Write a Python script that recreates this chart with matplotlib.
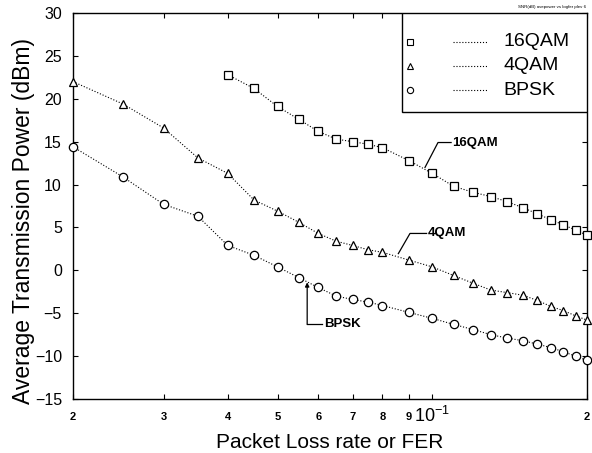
import matplotlib
matplotlib.use("Agg")
import matplotlib.pyplot as plt
from matplotlib.patches import Rectangle
from matplotlib.ticker import FixedLocator, FixedFormatter

plt.rcParams['font.family'] = ['Liberation Sans', 'DejaVu Sans']

# packet loss rate / FER
fer_16qam = [0.04, 0.045, 0.05, 0.055, 0.06, 0.065, 0.07, 0.075, 0.08, 0.09,
             0.10, 0.11, 0.12, 0.13, 0.14, 0.15, 0.16, 0.17, 0.18, 0.19, 0.20]
fer_low = [0.02, 0.025, 0.03, 0.035] + fer_16qam

# average transmission power (dBm)
pwr_16qam = [22.8, 21.2, 19.1, 17.6, 16.2, 15.3, 15.0, 14.7, 14.3, 12.8,
             11.3, 9.8, 9.1, 8.6, 8.0, 7.3, 6.6, 5.9, 5.3, 4.7, 4.1]
pwr_4qam = [22.0, 19.4, 16.6, 13.1, 11.3, 8.2, 6.9, 5.6, 4.3, 3.4, 2.9, 2.4, 2.1,
            1.2, 0.4, -0.6, -1.5, -2.3, -2.6, -2.9, -3.5, -4.2, -4.7, -5.3, -5.8]
pwr_bpsk = [14.4, 10.9, 7.7, 6.3, 2.9, 1.75, 0.4, -0.85, -2.0, -3.0, -3.4, -3.7, -4.1,
            -4.9, -5.6, -6.3, -6.9, -7.5, -7.9, -8.2, -8.6, -9.0, -9.5, -10.0, -10.5]

labels = ["16QAM", "4QAM", "BPSK"]
markers = ["s", "^", "o"]

x_major = [0.1]
x_minor = [0.02, 0.03, 0.04, 0.05, 0.06, 0.07, 0.08, 0.09, 0.2]
x_minor_labels = ["2", "3", "4", "5", "6", "7", "8", "9", "2"]
y_ticks = [-15, -10, -5, 0, 5, 10, 15, 20, 25, 30]

fig = plt.figure(figsize=(5.92, 4.53), dpi=100)
ax = fig.add_axes([73 / 592, 1 - 399 / 453, 514 / 592, 386 / 453])

series = [(fer_16qam, pwr_16qam), (fer_low, pwr_4qam), (fer_low, pwr_bpsk)]
for (xs, ys), m in zip(series, markers):
    ax.plot(xs, ys, linestyle=":", color="black", lw=0.8, marker=m,
            ms=6 if m != "^" else 5.8, mfc="white", mec="black", mew=0.9,
            clip_on=False, zorder=3)

ax.set_xscale("log")
ax.set_xlim(0.02, 0.2)
ax.set_ylim(-15, 30)

ax.xaxis.set_major_locator(FixedLocator(x_major))
ax.xaxis.set_major_formatter(FixedFormatter([r"$\mathregular{10^{-1}}$"]))
ax.xaxis.set_minor_locator(FixedLocator(x_minor))
ax.xaxis.set_minor_formatter(FixedFormatter(x_minor_labels))
ax.set_yticks(y_ticks)

ax.tick_params(axis="both", which="both", direction="in", top=True, right=True,
               length=3.5, width=0.8)
ax.tick_params(axis="x", which="minor", labelsize=8, pad=9)
ax.tick_params(axis="x", which="major", labelsize=13, pad=5)
ax.tick_params(axis="y", labelsize=11.5, pad=8)
for lab in ax.get_xticklabels(minor=True):
    lab.set_fontweight("bold")

for s in ax.spines.values():
    s.set_linewidth(1.0)

ax.set_xlabel("Packet Loss rate or FER", fontsize=15, labelpad=5)
ax.set_ylabel("Average Transmission Power (dBm)", fontsize=16.5)
ax.yaxis.set_label_coords(-0.074, 0.46)

# legend drawn by hand: marker, dotted line, label
ax.add_patch(Rectangle((0.6395, 0.744), 0.3605, 0.256, transform=ax.transAxes,
                       facecolor="white", edgecolor="black", lw=1.0, zorder=5))
rows_y = [0.9256, 0.8627, 0.8005]
for lab, m, yy in zip(labels, markers, rows_y):
    ax.plot([0.656], [yy], marker=m, ms=4.5, mfc="white", mec="black", mew=0.8,
            transform=ax.transAxes, zorder=6, clip_on=False)
    ax.plot([0.739, 0.805], [yy, yy], ":", color="black", lw=0.8,
            transform=ax.transAxes, zorder=6)
    ax.text(0.837, yy, lab, fontsize=14, va="center", ha="left",
            transform=ax.transAxes, zorder=6)

# leader labels on the curves
ax.plot([0.0968, 0.1026, 0.1088], [12.0, 14.9, 14.9], color="black", lw=0.9)
ax.text(0.1095, 14.9, "16QAM", fontsize=9.5, fontweight="bold", va="center")
ax.plot([0.0859, 0.0905, 0.0975], [1.95, 4.3, 4.3], color="black", lw=0.9)
ax.text(0.0982, 4.3, "4QAM", fontsize=9.5, fontweight="bold", va="center")
ax.annotate("", xy=(0.0571, -1.4), xytext=(0.0571, -6.3),
            arrowprops=dict(arrowstyle="-|>", color="black", lw=0.9,
                            mutation_scale=6, shrinkA=0, shrinkB=0))
ax.plot([0.0571, 0.0609], [-6.3, -6.3], color="black", lw=0.9)
ax.text(0.0615, -6.3, "BPSK", fontsize=9.5, fontweight="bold", va="center")

fig.text(0.99, 0.985, "SNR(dB) avepower vs logfer plev 6", fontsize=3.2,
         ha="right", va="center")

fig.savefig("out.png", dpi=100)
